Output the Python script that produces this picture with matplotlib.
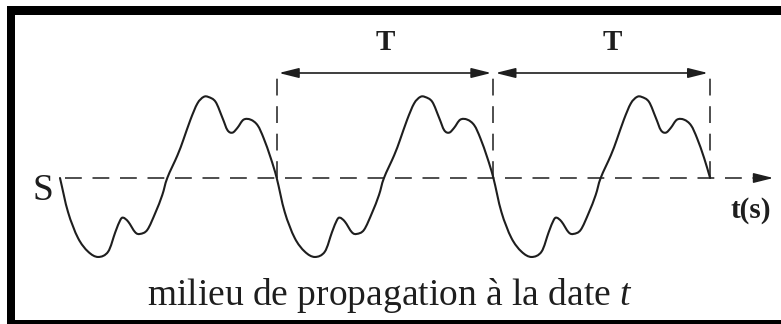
import matplotlib
matplotlib.use("Agg")
import matplotlib.pyplot as plt
import numpy as np
from matplotlib.patches import Rectangle, PathPatch
from matplotlib.path import Path

# ---- data ----
# one period of the signal: phase as a fraction of T, elongation (normalised)
phase = [0.000, 0.037, 0.083, 0.130, 0.176, 0.222, 0.255, 0.278, 0.292, 0.315,
         0.347, 0.370, 0.403, 0.440, 0.472, 0.495, 0.542, 0.569, 0.602, 0.634,
         0.662, 0.685, 0.718, 0.750, 0.773, 0.796, 0.819, 0.847, 0.880, 0.912,
         0.940, 0.972, 1.000]
elong = [0.00, -0.42, -0.74, -0.91, -0.975, -0.91, -0.67, -0.52, -0.49, -0.54,
         -0.67, -0.69, -0.64, -0.43, -0.21, 0.00, 0.28, 0.47, 0.72, 0.92,
         1.00, 1.00, 0.94, 0.74, 0.59, 0.56, 0.62, 0.72, 0.72, 0.65,
         0.49, 0.25, 0.00]
n_periods = 3
period_marks = [1, 2, 3]          # dashed verticals (in units of T)
period_labels = ["T", "T"]
source_label = "S"
axis_label = "t(s)"
caption = "milieu de propagation à la date $t$"

plt.rcParams["mathtext.fontset"] = "custom"
plt.rcParams["mathtext.rm"] = "Liberation Serif"
plt.rcParams["mathtext.it"] = "Liberation Serif:italic"

W, H, DPI = 781, 324, 100
fig = plt.figure(figsize=(W / DPI, H / DPI), dpi=DPI)
fig.patch.set_facecolor("white")
ax = fig.add_axes([0, 0, 1, 1])
ax.set_axis_off()

# scales: 216.7 px per T, 81 px per unit of elongation; origin at (60, 178) px
px_T, px_u, x0, y0 = 216.7, 81.0, 60.0, 178.0
ax.set_xlim(-x0 / px_T, (W - x0) / px_T)
ax.set_ylim(-(H - y0) / px_u, y0 / px_u)

ink = "#1e1e1e"

# wave, repeated over the periods, drawn as a smooth Bezier path through the points
ph = np.asarray(phase)
el = np.asarray(elong)
t = np.concatenate([ph[:-1] + k for k in range(n_periods)] + [[float(n_periods)]])
y = np.concatenate([el[:-1]] * n_periods + [[el[-1]]])
P = np.column_stack([t, y])
ext = np.vstack([2 * P[0] - P[1], P, 2 * P[-1] - P[-2]])
verts = [P[0]]
codes = [Path.MOVETO]
for i in range(len(P) - 1):
    p0, p1, p2, p3 = ext[i], ext[i + 1], ext[i + 2], ext[i + 3]
    verts += [p1 + (p2 - p0) / 6.0, p2 - (p3 - p1) / 6.0, p2]
    codes += [Path.CURVE4] * 3
ax.add_patch(PathPatch(Path(verts, codes), facecolor="none", edgecolor=ink,
                       lw=1.5, capstyle="round", joinstyle="round"))

# dashed time axis with arrow head
ax.plot([0.023, 3.24], [0, 0], color=ink, lw=1.1, linestyle=(0, (11, 7)))
ax.annotate("", xy=(3.292, 0), xytext=(3.22, 0),
            arrowprops=dict(arrowstyle="-|>,head_length=1.2,head_width=0.3",
                            color=ink, lw=1.1, shrinkA=0, shrinkB=0))

# dashed verticals
y_top = (y0 - 68) / px_u
for m in period_marks:
    ax.plot([m, m], [0, y_top], color=ink, lw=1.1, linestyle=(0, (11, 7)))

# double arrows + labels
y_arr = (y0 - 73) / px_u
label_x = [1.5, 2.55]
for k, lab in enumerate(period_labels):
    a, b = period_marks[k], period_marks[k + 1]
    ax.annotate("", xy=(b - 0.01, y_arr), xytext=(a + 0.01, y_arr),
                arrowprops=dict(arrowstyle="<|-|>,head_length=1.2,head_width=0.3",
                                color=ink, lw=1.2, shrinkA=0, shrinkB=0))
    ax.text(label_x[k], (y0 - 42) / px_u, lab, fontsize=21, fontweight="bold",
            family="Liberation Serif", ha="center", va="center", color=ink)

ax.text((43 - x0) / px_T, (y0 - 191) / px_u, source_label, fontsize=27,
        family="Liberation Serif", ha="center", va="center", color=ink)
ax.text((751 - x0) / px_T, (y0 - 211) / px_u, axis_label, fontsize=21,
        fontweight="bold", family="Liberation Serif", ha="center", va="center",
        color=ink)
ax.text((390 - x0) / px_T, (y0 - 305) / px_u, caption, fontsize=27,
        family="Liberation Serif", ha="center", va="baseline", color=ink)

# black frame (right side lies outside the picture)
for (x, yy, w, h) in [(7, 6, W, 9), (7, 6, 8, H), (7, 320, W, 10)]:
    fig.add_artist(Rectangle((x / W, 1 - (yy + h) / H), w / W, h / H,
                             transform=fig.transFigure, color="black", lw=0))

fig.savefig("out.png", dpi=DPI, facecolor="white")
